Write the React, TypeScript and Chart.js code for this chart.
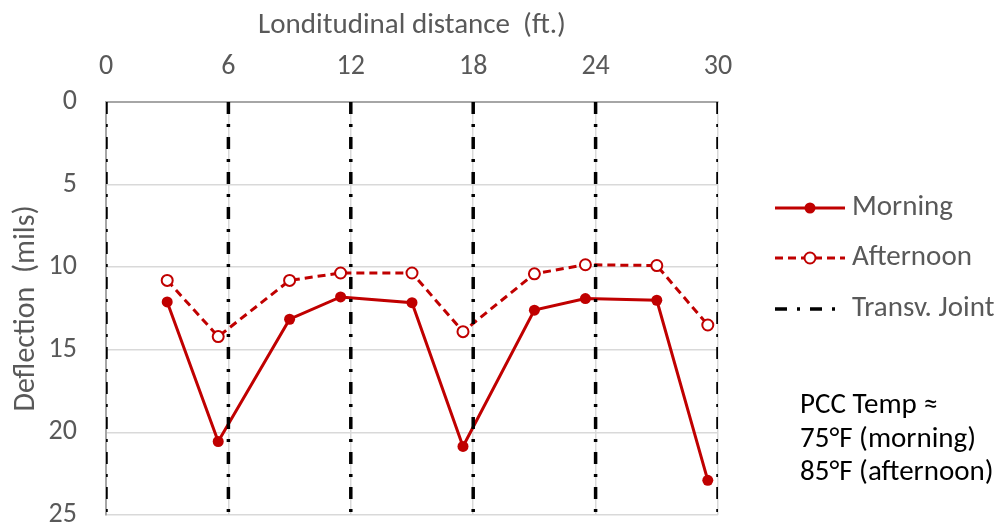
import React, { useEffect, useRef } from "react";
import { Chart, registerables } from "chart.js";

Chart.register(...registerables);

// Test stations along the slab (ft.)
const stations = [3, 5.5, 9, 11.5, 15, 17.5, 21, 23.5, 27, 29.5];
// FWD deflections (mils)
const morning = [12.1, 20.55, 13.15, 11.8, 12.15, 20.85, 12.6, 11.9, 12.0, 22.9];
const afternoon = [10.8, 14.2, 10.8, 10.35, 10.35, 13.9, 10.4, 9.85, 9.9, 13.5];
// Transverse joint locations (ft.)
const joints = [0, 6, 12, 18, 24, 30];
const xTickValues = [0, 6, 12, 18, 24, 30];
const yTickValues = [0, 5, 10, 15, 20, 25];
const noteLines = ["PCC Temp \u2248", "75\u00b0F (morning)", "85\u00b0F (afternoon)"];

const RED = "#c00000";
const TEXT = "#595959";
const FONT = "Carlito, Lato, 'Liberation Sans', sans-serif";
const JOINT_DASH = [12, 10, 3, 10];

const legendPlugin = {
  id: "sideLegend",
  afterDraw(chart: Chart) {
    const ctx = chart.ctx;
    ctx.save();
    const x0 = 775;
    const x1 = 845;
    const xm = 810;
    const rows = [
      { label: "Morning", y: 208, kind: "morning" },
      { label: "Afternoon", y: 258, kind: "afternoon" },
      { label: "Transv. Joint", y: 309, kind: "joint" },
    ];
    rows.forEach((r) => {
      ctx.beginPath();
      ctx.lineCap = "butt";
      if (r.kind === "joint") {
        ctx.strokeStyle = "#000";
        ctx.lineWidth = 3.5;
        ctx.setLineDash(JOINT_DASH);
      } else {
        ctx.strokeStyle = RED;
        ctx.lineWidth = 3;
        ctx.setLineDash(r.kind === "afternoon" ? [8, 5] : []);
      }
      ctx.moveTo(x0, r.y);
      ctx.lineTo(x1, r.y);
      ctx.stroke();
      ctx.setLineDash([]);
      if (r.kind === "morning") {
        ctx.beginPath();
        ctx.fillStyle = RED;
        ctx.arc(xm, r.y, 5.5, 0, Math.PI * 2);
        ctx.fill();
      } else if (r.kind === "afternoon") {
        ctx.beginPath();
        ctx.fillStyle = "#fff";
        ctx.strokeStyle = RED;
        ctx.lineWidth = 2;
        ctx.arc(xm, r.y, 5.5, 0, Math.PI * 2);
        ctx.fill();
        ctx.stroke();
      }
      ctx.fillStyle = TEXT;
      ctx.font = `29px ${FONT}`;
      ctx.textAlign = "left";
      ctx.textBaseline = "middle";
      ctx.fillText(r.label, 852, r.y);
    });

    ctx.fillStyle = "#000";
    ctx.font = `29px ${FONT}`;
    ctx.textAlign = "left";
    ctx.textBaseline = "middle";
    noteLines.forEach((t, i) => ctx.fillText(t, 800, 406 + i * 33.5));
    ctx.restore();
  },
};

export default function App() {
  const ref = useRef<HTMLCanvasElement | null>(null);

  useEffect(() => {
    if (!ref.current) return;
    const jointSets = joints.map((j) => ({
      label: "Transv. Joint",
      data: [
        { x: j, y: 0 },
        { x: j, y: 25 },
      ],
      borderColor: "#000",
      borderWidth: 3.5,
      borderDash: JOINT_DASH,
      borderCapStyle: "butt" as const,
      pointRadius: 0,
      order: 0,
    }));

    const chart = new Chart(ref.current, {
      type: "line",
      data: {
        datasets: [
          ...jointSets,
          {
            label: "Morning",
            data: stations.map((x, i) => ({ x, y: morning[i] })),
            borderColor: RED,
            backgroundColor: RED,
            borderWidth: 3,
            pointRadius: 5.5,
            pointBorderWidth: 0,
            pointBackgroundColor: RED,
            order: 1,
          },
          {
            label: "Afternoon",
            data: stations.map((x, i) => ({ x, y: afternoon[i] })),
            borderColor: RED,
            borderWidth: 3,
            borderDash: [8, 5],
            pointRadius: 5.5,
            pointBorderWidth: 2,
            pointBorderColor: RED,
            pointBackgroundColor: "#fff",
            order: 2,
          },
        ],
      },
      options: {
        animation: false,
        responsive: true,
        maintainAspectRatio: false,
        layout: { padding: { left: 0, right: 286, top: 0, bottom: 10 } },
        plugins: {
          legend: { display: false },
          tooltip: { enabled: false },
        },
        scales: {
          x: {
            type: "linear",
            position: "top",
            min: 0,
            max: 30,
            afterBuildTicks: (s: any) => {
              s.ticks = xTickValues.map((v) => ({ value: v }));
            },
            afterFit: (s: any) => {
              s.height = 102;
              s.paddingLeft = 0;
              s.paddingRight = 0;
            },
            ticks: {
              color: TEXT,
              font: { family: FONT, size: 28 },
              padding: 18,
            },
            grid: { color: "#d9d9d9", lineWidth: 1.5, drawTicks: false },
            border: { color: "#a6a6a6", width: 2 },
            title: {
              display: true,
              text: "Londitudinal distance  (ft.)",
              color: TEXT,
              font: { family: FONT, size: 29 },
              padding: { top: 8, bottom: 0 },
            },
          },
          y: {
            type: "linear",
            reverse: true,
            min: 0,
            max: 25,
            afterBuildTicks: (s: any) => {
              s.ticks = yTickValues.map((v) => ({ value: v }));
            },
            afterFit: (s: any) => {
              s.width = 106;
              s.paddingTop = 0;
              s.paddingBottom = 0;
            },
            ticks: {
              color: TEXT,
              font: { family: FONT, size: 28 },
              padding: 29,
            },
            grid: { color: "#d9d9d9", lineWidth: 1.5, drawTicks: false },
            border: { color: "#a6a6a6", width: 2 },
            title: {
              display: true,
              text: "Deflection  (mils)",
              color: TEXT,
              font: { family: FONT, size: 30 },
              padding: { top: 8, bottom: 0 },
            },
          },
        },
      },
      plugins: [legendPlugin],
    });
    return () => chart.destroy();
  }, []);

  return (
    <div style={{ position: "absolute", left: 0, top: 0, width: 1004, height: 525, background: "#fff" }}>
      <canvas ref={ref} />
    </div>
  );
}
